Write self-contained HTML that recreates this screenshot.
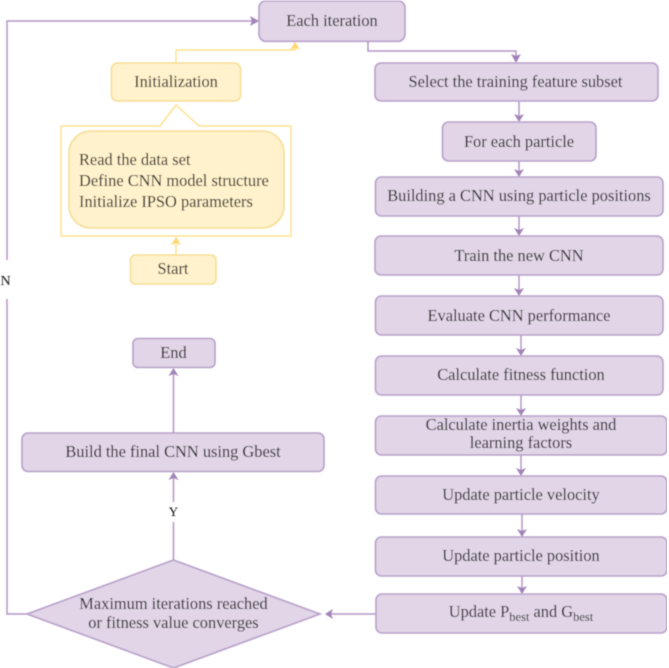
<!DOCTYPE html>
<html><head><meta charset="utf-8">
<style>
html,body{margin:0;padding:0;background:#fff}
svg{display:block}
text{font-family:"Liberation Serif",serif;font-size:16.4px;fill:#111;text-anchor:middle}
.p{fill:#e1d5e7;stroke:#b89fca;stroke-width:1.6}
.y{fill:#fff2cc;stroke:#f7dd94;stroke-width:1.6}
.lp{fill:none;stroke:#b195c6;stroke-width:1.5}
.ly{fill:none;stroke:#ffe08f;stroke-width:1.5}
.ap{fill:#a283b8}
.ay{fill:#ffd76e}
</style></head>
<body>
<svg width="669" height="668" viewBox="0 0 669 668" xmlns="http://www.w3.org/2000/svg">
<defs><filter id="b" x="0" y="0" width="100%" height="100%"><feGaussianBlur stdDeviation="0.4"/></filter></defs>
<g filter="url(#b)">
<!-- connectors -->
<path class="lp" d="M7 260V21H252"/>
<path class="lp" d="M7 299V614H28"/>
<polygon class="ap" points="259,21 250,16 252,21 250,26"/>
<path class="lp" d="M368 41V51H516V56"/>
<polygon class="ap" points="516,63 511,54 516,56 521,54"/>
<path class="lp" d="M519 101V116"/><polygon class="ap" points="519,122 514,114 519,116 524,114"/>
<path class="lp" d="M519 161V171"/><polygon class="ap" points="519,177 514,169 519,171 524,169"/>
<path class="lp" d="M519 216V230"/><polygon class="ap" points="519,236 514,228 519,230 524,228"/>
<path class="lp" d="M519 275V290"/><polygon class="ap" points="519,296 514,288 519,290 524,288"/>
<path class="lp" d="M521 335V350"/><polygon class="ap" points="521,356 516,348 521,350 526,348"/>
<path class="lp" d="M521 395V410"/><polygon class="ap" points="521,416 516,408 521,410 526,408"/>
<path class="lp" d="M521 455V470"/><polygon class="ap" points="521,476 516,468 521,470 526,468"/>
<path class="lp" d="M522 514V531"/><polygon class="ap" points="522,537 517,529 522,531 527,529"/>
<path class="lp" d="M522 576V588"/><polygon class="ap" points="522,594 517,586 522,588 527,586"/>
<path class="lp" d="M376 614H331"/><polygon class="ap" points="325,614 333,609 331,614 333,619"/>
<path class="lp" d="M173.500 560V522M173.500 502V478"/><polygon class="ap" points="173.500,472 168.500,480 173.500,478 178.500,480"/>
<path class="lp" d="M173.500 433V374"/><polygon class="ap" points="173.500,368 168.500,376 173.500,374 178.500,376"/>
<path class="ly" d="M176 63V50H295V46"/><polygon class="ay" points="295,42 290,50 295,48 300,50"/>
<path class="ly" d="M176 255V242"/><polygon class="ay" points="176,237 171,245 176,243 181,245"/>
<path class="ly" d="M61 126H160L176 105L199 126H291V236H61Z"/>
<!-- nodes -->
<rect class="p" x="259" y="0.800" width="146" height="40.500" rx="7"/>
<rect class="y" x="111.500" y="63" width="129" height="38" rx="6"/>
<rect class="y" x="69" y="131" width="215" height="97" rx="22"/>
<rect class="y" x="130.500" y="255" width="85.500" height="29" rx="5"/>
<rect class="p" x="375" y="63" width="283" height="38" rx="6"/>
<rect class="p" x="442.500" y="122" width="153.500" height="39" rx="6"/>
<rect class="p" x="375.500" y="177" width="287.500" height="39" rx="6"/>
<rect class="p" x="375" y="236" width="288" height="39" rx="6"/>
<rect class="p" x="375.500" y="296" width="287.500" height="39" rx="6"/>
<rect class="p" x="375.500" y="356" width="287.500" height="39" rx="6"/>
<rect class="p" x="375.500" y="416" width="291.500" height="39" rx="6"/>
<rect class="p" x="375.500" y="476" width="291.500" height="38" rx="6"/>
<rect class="p" x="375.500" y="537" width="291.500" height="39" rx="6"/>
<rect class="p" x="376" y="594" width="291" height="39" rx="6"/>
<rect class="p" x="133" y="338.500" width="82" height="29" rx="5"/>
<rect class="p" x="22" y="433" width="302" height="38.500" rx="6"/>
<polygon class="p" points="27,614 173.500,560 320,614 173.500,668"/>
<!-- labels -->
<text x="332" y="26">Each iteration</text>
<text x="176" y="87">Initialization</text>
<text x="79" y="165" style="text-anchor:start">Read the data set</text>
<text x="79" y="186" style="text-anchor:start">Define CNN model structure</text>
<text x="79" y="207" style="text-anchor:start">Initialize IPSO parameters</text>
<text x="173" y="274">Start</text>
<text x="515.500" y="87">Select the training feature subset</text>
<text x="519" y="147">For each particle</text>
<text x="519" y="201">Building a CNN using particle positions</text>
<text x="519" y="261">Train the new CNN</text>
<text x="519" y="321">Evaluate CNN performance</text>
<text x="521" y="380">Calculate fitness function</text>
<text x="521" y="430">Calculate inertia weights and</text>
<text x="521" y="448">learning factors</text>
<text x="521" y="500">Update particle velocity</text>
<text x="521" y="561">Update particle position</text>
<text x="521" y="617">Update P<tspan dy="4" style="font-size:12.500px">best</tspan><tspan dy="-4"> and G</tspan><tspan dy="4" style="font-size:12.500px">best</tspan></text>
<text x="173.500" y="358">End</text>
<text x="173" y="457">Build the final CNN using Gbest</text>
<text x="173.500" y="609">Maximum iterations reached</text>
<text x="173.500" y="628">or fitness value converges</text>
<text x="173.500" y="516" style="font-size:13px">Y</text>
<text x="5.500" y="285" style="font-size:14px">N</text>
</g>
</svg>
</body></html>
